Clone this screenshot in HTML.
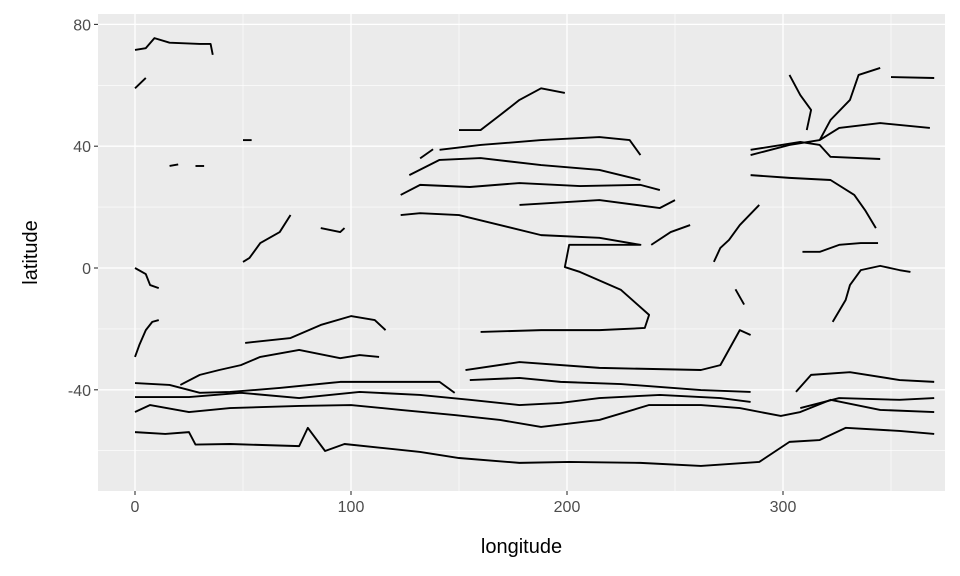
<!DOCTYPE html>
<html><head><meta charset="utf-8"><style>
body{margin:0;background:#fff;}
svg{display:block;font-family:"Liberation Sans",sans-serif;}
</style></head><body>
<svg id="chart" width="960" height="576"></svg>
<script>
const xTicks=[0,100,200,300];
const yTicks=[80,40,0,-40];
const xMinor=[50,150,250,350];
const yMinor=[60,20,-20,-60];
const lineS1=[[0,-53.9],[14,-54.5],[25,-53.9],[28,-58],[44,-57.8],[76,-58.5],[80,-52.5],[88,-60.1],[97,-57.8],[132,-60.4],[150,-62.4],[178,-64],[201,-63.7],[234,-64],[262,-65],[289,-63.7],[303,-57.1],[317,-56.5],[329,-52.5],[354,-53.5],[370,-54.5]];
const lineS2=[[0,-47.3],[7,-45],[25,-47.3],[44,-46],[76,-45.3],[100,-45],[123,-46.6],[148,-48.3],[169,-49.9],[188,-52.2],[215,-49.9],[238,-45],[262,-45],[280,-46],[299,-48.6],[308,-47.3],[322,-43.3],[345,-46.6],[370,-47.3]];
const lineS3=[[0,-42.4],[25,-42.4],[49,-41],[76,-42.7],[104,-40.7],[132,-41.7],[155,-43.3],[178,-45],[197,-44.3],[215,-42.7],[243,-41.7],[271,-42.7],[285,-44]];
const lineS3b=[[308,-46],[326,-42.7],[354,-43.3],[370,-42.7]];
const lineS4=[[0,-37.8],[16,-38.4],[30,-41],[44,-40.7],[67,-39.4],[95,-37.4],[141,-37.4],[148,-41]];
const lineS4b=[[155,-36.8],[178,-36.1],[197,-37.4],[225,-38.1],[262,-40.1],[285,-40.7]];
const lineS4c=[[306,-40.7],[313,-35.1],[331,-34.2],[354,-36.8],[370,-37.4]];
const lineS5=[[21,-38.4],[30,-35.1],[39,-33.5],[49,-31.9],[58,-29.2],[76,-26.9],[95,-29.6],[104,-28.6],[113,-29.2]];
const lineS5b=[[0,-29.2],[2,-25.3],[5,-20.4],[8,-17.7],[11,-17.1]];
const lineS6=[[51,-24.6],[72,-23],[86,-18.7],[100,-15.8],[111,-17.1],[116,-20.4]];
const lineS7=[[153,-33.5],[178,-30.9],[215,-32.8],[262,-33.5],[271,-31.9],[280,-20.4],[285,-22]];
const lineTrop=[[123,17.4],[132,18],[150,17.4],[169,14.1],[188,10.8],[215,9.9],[234,7.6],[201,7.6],[199,0.3],[206,-1.3],[225,-7.2],[238,-15.4],[236,-19.7],[215,-20.4],[188,-20.4],[160,-21]];
const lineN1=[[123,24],[132,27.3],[155,26.6],[178,27.9],[206,26.9],[234,27.3],[243,25.6]];
const lineN2=[[127,30.5],[141,35.5],[160,36.1],[188,33.8],[215,32.2],[234,28.9]];
const lineN3=[[141,38.8],[160,40.4],[188,42],[215,43],[229,42],[234,37.1]];
const lineN4=[[150,45.3],[160,45.3],[169,50.2],[178,55.2],[188,59],[199,57.5]];
const lineN6=[[178,20.7],[215,22.3],[243,19.7],[250,22.3]];
const lineA1=[[285,37.1],[303,40.4],[317,42],[326,46],[345,47.6],[368,46]];
const lineA2=[[285,30.5],[303,29.6],[322,28.9],[333,24],[338,19],[343,13.1]];
const lineA3=[[285,38.8],[308,41.4],[317,40.4],[322,36.5],[345,35.8]];
const lineA4=[[303,63.4],[308,56.8],[313,51.9],[311,45.3]];
const lineA5=[[317,42],[322,48.6],[331,55.2],[335,63.4],[345,65.7]];
const lineA6=[[350,62.7],[370,62.4]];
const lineA7=[[309,5.3],[317,5.3],[326,7.6],[336,8.2],[344,8.2]];
const lineA8=[[323,-17.7],[329,-10.5],[331,-5.6],[336,-0.7],[345,0.7],[354,-0.7],[359,-1.3]];
const lineA9=[[268,2],[271,6.6],[275,9.2],[280,14.1],[289,20.7]];
const lineA10=[[239,7.6],[248,11.8],[257,14.1]];
const lineL1=[[0,71.6],[5,72.2],[9,75.5],[16,74],[30,73.6],[35,73.6],[36,70]];
const lineL2=[[0,59],[5,62.4]];
const lineL3=[[0,0],[5,-2],[7,-5.6],[11,-6.6]];
const lineL4=[[50,2],[53,3.3],[58,8.2],[67,11.8],[72,17.4]];
const lineL5=[[86,13.1],[95,11.8],[97,13.1]];
const lineD1=[[16,33.5],[20,34]];
const lineD2=[[28,33.5],[32,33.5]];
const lineD3=[[50,42],[54,42]];
const lineD4=[[278,-7],[282,-12]];
const lineD5=[[132,36],[138,39]];
const series=[lineS1,lineS2,lineS3,lineS3b,lineS4,lineS4b,lineS4c,lineS5,lineS5b,lineS6,lineS7,lineTrop,lineN1,lineN2,lineN3,lineN4,lineN6,lineA1,lineA2,lineA3,lineA4,lineA5,lineA6,lineA7,lineA8,lineA9,lineA10,lineL1,lineL2,lineL3,lineL4,lineL5,lineD1,lineD2,lineD3,lineD4,lineD5];

const NS="http://www.w3.org/2000/svg";
const svg=document.getElementById('chart');
const P={l:98,r:945,t:14,b:491};
const xs=v=>135+v*2.16;
const ys=v=>268-v*3.045;
function mk(tag,at,parent){const e=document.createElementNS(NS,tag);for(const k in at)e.setAttribute(k,at[k]);(parent||svg).appendChild(e);return e;}
const bg=mk('rect',{x:P.l,y:P.t,width:P.r-P.l,height:P.b-P.t,fill:'#ebebeb'});


xMinor.forEach(v=>{const l=mk('line',{x1:xs(v),x2:xs(v),y1:P.t,y2:P.b,stroke:'#fff','stroke-width':0.6});

});
yMinor.forEach(v=>{const l=mk('line',{x1:P.l,x2:P.r,y1:ys(v),y2:ys(v),stroke:'#fff','stroke-width':0.6});

});
xTicks.forEach(v=>{const l=mk('line',{x1:xs(v),x2:xs(v),y1:P.t,y2:P.b,stroke:'#fff','stroke-width':1.3});


const t=mk('line',{x1:xs(v),x2:xs(v),y1:P.b,y2:P.b+4,stroke:'#333','stroke-width':1.1});


const tx=mk('text',{x:xs(v),y:P.b+21,'text-anchor':'middle','font-size':16,fill:'#4d4d4d'});tx.textContent=v;

});
yTicks.forEach(v=>{const l=mk('line',{x1:P.l,x2:P.r,y1:ys(v),y2:ys(v),stroke:'#fff','stroke-width':1.3});


const t=mk('line',{x1:P.l-4,x2:P.l,y1:ys(v),y2:ys(v),stroke:'#333','stroke-width':1.1});


const tx=mk('text',{x:P.l-7,y:ys(v)+6,'text-anchor':'end','font-size':16,fill:'#4d4d4d'});tx.textContent=v;

});
series.forEach(s=>{const p=mk('polyline',{points:s.map(d=>xs(d[0])+','+ys(d[1])).join(' '),fill:'none',stroke:'#000','stroke-width':1.9,'stroke-linejoin':'round'});

});
const xt=mk('text',{x:(P.l+P.r)/2,y:553,'text-anchor':'middle','font-size':20,fill:'#000'});xt.textContent='longitude';


const yt=mk('text',{x:0,y:0,'text-anchor':'middle','font-size':20,fill:'#000',transform:'translate(37,'+((P.t+P.b)/2)+') rotate(-90)'});yt.textContent='latitude';


</script>
</body></html>
